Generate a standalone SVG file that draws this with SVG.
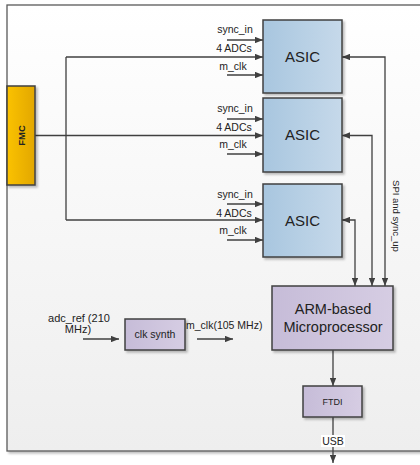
<svg xmlns="http://www.w3.org/2000/svg" width="420" height="465" viewBox="0 0 420 465">
<defs>
  <linearGradient id="bg" x1="0" y1="0" x2="0" y2="1">
    <stop offset="0" stop-color="#ffffff"/>
    <stop offset="1" stop-color="#eeeeee"/>
  </linearGradient>
  <linearGradient id="gold" x1="0" y1="0" x2="1" y2="0">
    <stop offset="0" stop-color="#fbc200"/>
    <stop offset="1" stop-color="#e2a700"/>
  </linearGradient>
  <linearGradient id="blue" x1="0" y1="0" x2="1" y2="0">
    <stop offset="0" stop-color="#a8c6df"/>
    <stop offset="1" stop-color="#c6d9ea"/>
  </linearGradient>
  <linearGradient id="purple" x1="0" y1="0" x2="1" y2="0">
    <stop offset="0" stop-color="#c6bcd8"/>
    <stop offset="1" stop-color="#d6cde3"/>
  </linearGradient>
  <filter id="sh" x="-10%" y="-10%" width="130%" height="130%">
    <feDropShadow dx="2" dy="2" stdDeviation="1" flood-color="#000" flood-opacity="0.25"/>
  </filter>
  <marker id="ah" viewBox="0 0 10 8" refX="10" refY="4" markerWidth="8" markerHeight="6.4" markerUnits="userSpaceOnUse" orient="auto-start-reverse">
    <path d="M0,0 L10,4 L0,8 Z" fill="#404040"/>
  </marker>
  <style>
    text { font-family: "Liberation Sans", Arial, sans-serif; fill: #222; }
    .lbl { text-anchor: middle; }
    .box { stroke: #404040; stroke-width: 1.5; filter: url(#sh); }
    .ln { stroke: #404040; stroke-width: 1.3; fill: none; }
    .arr { stroke: #404040; stroke-width: 1.3; fill: none; marker-end: url(#ah); }
    .bi { stroke: #404040; stroke-width: 1.3; fill: none; marker-start: url(#ah); marker-end: url(#ah); }
  </style>
</defs>

<g id="board">
  <rect x="7" y="5" width="430" height="446" fill="url(#bg)" stroke="#5a5a5a" stroke-width="1.3" filter="url(#sh)"/>
</g>

<g id="connectors">
  <path class="ln" d="M35,135.5 H66 M66,57 V220"/>
  <path class="arr" d="M66,57 H263"/>
  <path class="arr" d="M66,135.5 H263"/>
  <path class="arr" d="M66,220 H263"/>
  <path class="arr" d="M227,40 H263"/>
  <path class="arr" d="M227,75 H263"/>
  <path class="arr" d="M227,119 H263"/>
  <path class="arr" d="M227,154 H263"/>
  <path class="arr" d="M227,204 H263"/>
  <path class="arr" d="M227,240 H263"/>
  <path class="bi" d="M342,57 H385 V286"/>
  <path class="bi" d="M342,135.5 H372 V286"/>
  <path class="bi" d="M342,220 H355 V286"/>
  <path class="arr" d="M83,339 H119"/>
  <path class="arr" d="M197,339 H233"/>
  <path class="arr" d="M333,350 V386"/>
  <path class="arr" d="M333,417 V463"/>
</g>

<g id="labels">
  <text class="lbl" x="235" y="33" font-size="10.5">sync_in</text>
  <text class="lbl" x="234" y="52" font-size="10.5">4 ADCs</text>
  <text class="lbl" x="233" y="70" font-size="10.5">m_clk</text>
  <text class="lbl" x="235" y="112" font-size="10.5">sync_in</text>
  <text class="lbl" x="234" y="131" font-size="10.5">4 ADCs</text>
  <text class="lbl" x="233" y="148" font-size="10.5">m_clk</text>
  <text class="lbl" x="235" y="198" font-size="10.5">sync_in</text>
  <text class="lbl" x="234" y="217" font-size="10.5">4 ADCs</text>
  <text class="lbl" x="233" y="234" font-size="10.5">m_clk</text>
  <text x="393" y="216" font-size="9.5" text-anchor="middle" transform="rotate(90 393 216)">SPI and sync_up</text>
  <text class="lbl" x="79" y="322" font-size="11">adc_ref (210</text>
  <text class="lbl" x="78" y="333" font-size="11">MHz)</text>
  <text x="186" y="329" font-size="10.5">m_clk(105 MHz)</text>
  <rect x="321" y="435" width="24" height="12" fill="#ffffff"/>
  <text class="lbl" x="333" y="445" font-size="10.5">USB</text>
</g>

<g id="fmc">
  <rect class="box" x="7" y="86" width="28" height="99" fill="url(#gold)"/>
  <text x="21" y="135.5" font-size="9.5" font-weight="bold" text-anchor="middle" dominant-baseline="central" transform="rotate(-90 21 135.5)">FMC</text>
</g>

<g id="asic1">
  <rect class="box" x="263" y="20" width="79" height="73" fill="url(#blue)"/>
  <text x="302.5" y="62" font-size="15" text-anchor="middle">ASIC</text>
</g>
<g id="asic2">
  <rect class="box" x="263" y="98" width="79" height="74" fill="url(#blue)"/>
  <text x="302.5" y="140" font-size="15" text-anchor="middle">ASIC</text>
</g>
<g id="asic3">
  <rect class="box" x="263" y="184" width="79" height="73" fill="url(#blue)"/>
  <text x="302.5" y="226" font-size="15" text-anchor="middle">ASIC</text>
</g>

<g id="arm">
  <rect class="box" x="272" y="286" width="121" height="64" fill="url(#purple)"/>
  <text x="333" y="314" font-size="14.5" text-anchor="middle">ARM-based</text>
  <text x="333" y="332" font-size="14.5" text-anchor="middle">Microprocessor</text>
</g>

<g id="clksynth">
  <rect class="box" x="125" y="319" width="60" height="31" fill="url(#purple)"/>
  <text x="155" y="338" font-size="10.5" text-anchor="middle">clk synth</text>
</g>

<g id="ftdi">
  <rect class="box" x="303" y="386" width="59" height="31" fill="url(#purple)"/>
  <text x="332.5" y="405" font-size="9" text-anchor="middle">FTDI</text>
</g>
</svg>
